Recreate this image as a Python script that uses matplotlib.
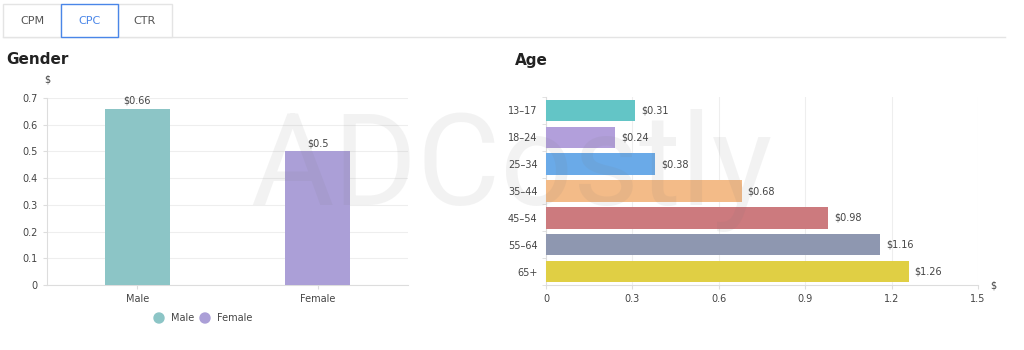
import matplotlib.pyplot as plt
from matplotlib.patches import Rectangle, Circle

# data
gender_labels = ['Male', 'Female']
gender_values = [0.66, 0.5]
gender_colors = ['#8cc5c6', '#ab9fd7']

age_labels = ['13–17', '18–24', '25–34', '35–44', '45–54', '55–64', '65+']
age_values = [0.31, 0.24, 0.38, 0.68, 0.98, 1.16, 1.26]
age_colors = ['#63c5c6', '#b29fdb', '#6aaae8', '#f3bb88', '#cc7a7e', '#8e97b0', '#e0cf44']

tabs = ['CPM', 'CPC', 'CTR']

W, H = 1024, 350
txt = '#444444'
grid = '#eeeeee'
axc = '#dddddd'

fig = plt.figure(figsize=(W / 100, H / 100), dpi=100)


def px(l, t, r, b):
    return [l / W, 1 - b / H, (r - l) / W, (b - t) / H]


# Gender bars
ax1 = fig.add_axes(px(47, 98, 408, 285))
x = range(len(gender_labels))
ax1.bar(x, gender_values, width=0.36, color=gender_colors, zorder=3)
for i, v in enumerate(gender_values):
    ax1.text(i, v + 0.012, f'${v:g}', ha='center', va='bottom', fontsize=7, color=txt)
ax1.set_xlim(-0.5, 1.5)
ax1.set_ylim(0, 0.7)
ax1.set_xticks(list(x))
ax1.set_xticklabels(gender_labels)
ax1.set_yticks([i / 10 for i in range(8)])
ax1.set_yticklabels(['0'] + [f'{i / 10:g}' for i in range(1, 8)])
ax1.yaxis.grid(True, color=grid, lw=0.8, zorder=0)
for s in ['top', 'right']:
    ax1.spines[s].set_visible(False)
for s in ['left', 'bottom']:
    ax1.spines[s].set_color(axc)
ax1.tick_params(colors=axc, labelcolor=txt, labelsize=7, length=3, width=0.8)
ax1.set_axisbelow(True)

# Age bars
ax2 = fig.add_axes(px(546, 97, 978, 285))
y = range(len(age_labels))
ax2.barh(y, age_values, height=0.8, color=age_colors, zorder=3)
for i, v in enumerate(age_values):
    ax2.text(v + 0.02, i, f'${v:g}', ha='left', va='center', fontsize=7, color=txt)
ax2.set_ylim(len(age_labels) - 0.5, -0.5)
ax2.set_xlim(0, 1.5)
ax2.set_yticks(list(y))
ax2.set_yticklabels(age_labels)
ax2.set_yticks([i - 0.5 for i in range(len(age_labels) + 1)], minor=True)
ax2.set_xticks([0, 0.3, 0.6, 0.9, 1.2, 1.5])
ax2.set_xticklabels(['0', '0.3', '0.6', '0.9', '1.2', '1.5'])
ax2.xaxis.grid(True, color=grid, lw=0.8, zorder=0)
for s in ['top', 'right']:
    ax2.spines[s].set_visible(False)
for s in ['left', 'bottom']:
    ax2.spines[s].set_color(axc)
ax2.tick_params(colors=axc, labelcolor=txt, labelsize=7, length=3, width=0.8)
ax2.tick_params(axis='y', which='major', length=0, pad=6)
ax2.tick_params(axis='y', which='minor', length=3, color=axc)
ax2.set_axisbelow(True)

# overlay: tabs, titles, legend, watermark
ov = fig.add_axes([0, 0, 1, 1])
ov.set_xlim(0, W)
ov.set_ylim(H, 0)
ov.axis('off')
ov.patch.set_alpha(0)

ov.plot([3, 1005], [36.5, 36.5], color='#e4e4e4', lw=1)
tab_x = [3, 61, 118, 172]
for i, t in enumerate(tabs):
    l, r = tab_x[i], tab_x[i + 1]
    active = t == 'CPC'
    ov.add_patch(Rectangle((l, 4), r - l, 32.5, facecolor='white',
                           edgecolor='#4a86e8' if active else '#e4e4e4', lw=1,
                           zorder=3 if active else 2))
    ov.text((l + r) / 2, 20.5, t, ha='center', va='center', fontsize=8,
            color='#4a86e8' if active else '#555555', zorder=4)

ov.text(6, 60, 'Gender', fontsize=11, fontweight='bold', color='#222222', va='center')
ov.text(515, 60, 'Age', fontsize=11, fontweight='bold', color='#222222', va='center')
ov.text(47, 80, '$', fontsize=7, color=txt, ha='center', va='center')
ov.text(993, 285, '$', fontsize=7, color=txt, ha='center', va='center')

ov.add_patch(Circle((159, 318), 5, color=gender_colors[0]))
ov.text(171, 318, gender_labels[0], fontsize=7, color=txt, va='center')
ov.add_patch(Circle((205, 318), 5, color=gender_colors[1]))
ov.text(217, 318, gender_labels[1], fontsize=7, color=txt, va='center')

ov.text(511, 171, 'ADCostly', fontsize=92, family='Roboto',
        color='#777777', alpha=0.09, ha='center', va='center')

fig.savefig('out.png', dpi=100)
